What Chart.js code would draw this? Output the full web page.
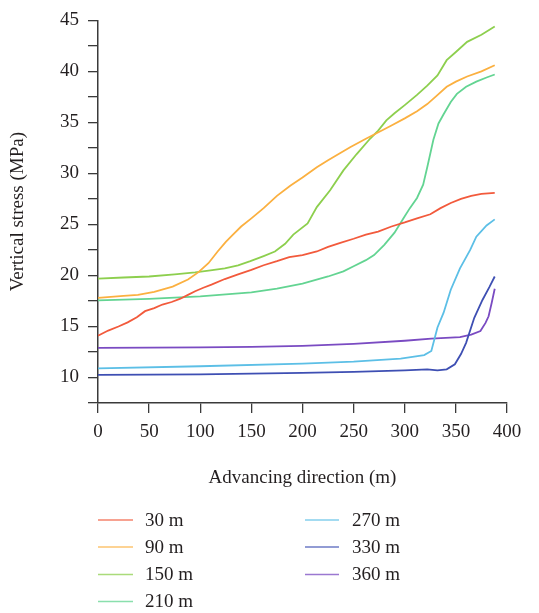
<!DOCTYPE html>
<html>
<head>
<meta charset="utf-8">
<script src="https://cdn.jsdelivr.net/npm/chart.js@4/dist/chart.umd.min.js"></script>
<style>
  html, body { margin: 0; padding: 0; background: #ffffff; }
  #wrap { position: relative; width: 539px; height: 613px; }
</style>
</head>
<body>
<div id="wrap"><canvas id="c" width="539" height="613"></canvas></div>
<script>
// ---- data ----
const seriesNames = ['30 m', '90 m', '150 m', '210 m', '270 m', '330 m', '360 m'];
const seriesColors = ['#f25a3c', '#fbb040', '#8dcf4e', '#63d492', '#5cbfe6', '#3e4fb3', '#7a4bc2'];

const x30 = [0, 10, 20, 29, 38, 46, 55, 63, 72, 80, 88, 95, 103, 111, 124, 137, 150, 162, 175, 187, 200, 214, 225, 237, 250, 262, 274, 287, 300, 312, 325, 335, 345, 355, 365, 375, 388];
const y30 = [14.1, 14.6, 15.0, 15.4, 15.9, 16.5, 16.8, 17.15, 17.4, 17.7, 18.1, 18.45, 18.8, 19.1, 19.65, 20.1, 20.55, 21.0, 21.4, 21.8, 22.0, 22.35, 22.8, 23.2, 23.6, 24.0, 24.3, 24.8, 25.2, 25.6, 26.0, 26.6, 27.1, 27.5, 27.8, 28.0, 28.1];

const x90 = [0, 25, 39, 55, 73, 88, 98, 108, 117, 125, 132, 140, 150, 162, 175, 188, 200, 214, 225, 237, 247, 262, 271, 287, 300, 312, 322, 330, 341, 350, 361, 375, 388];
const y90 = [17.8, 18.0, 18.1, 18.4, 18.9, 19.6, 20.3, 21.2, 22.35, 23.3, 24.0, 24.8, 25.6, 26.6, 27.8, 28.8, 29.6, 30.6, 31.3, 32.0, 32.6, 33.4, 33.87, 34.7, 35.4, 36.1, 36.8, 37.5, 38.5, 39.0, 39.5, 40.0, 40.6];

const x150 = [0, 25, 50, 75, 95, 110, 124, 137, 149, 162, 173, 183, 191, 205, 214, 227, 240, 253, 266, 274, 282, 290, 300, 312, 322, 332, 341, 350, 361, 375, 388];
const y150 = [19.7, 19.8, 19.9, 20.1, 20.3, 20.5, 20.7, 21.0, 21.4, 21.9, 22.35, 23.1, 24.0, 25.1, 26.7, 28.35, 30.3, 31.9, 33.4, 34.2, 35.2, 35.9, 36.7, 37.7, 38.6, 39.6, 41.1, 41.9, 42.9, 43.6, 44.4];

const x210 = [0, 50, 100, 150, 175, 200, 225, 240, 250, 262, 270, 280, 290, 300, 305, 312, 318, 322, 328, 333, 338, 345, 351, 360, 370, 380, 388];
const y210 = [17.55, 17.7, 17.95, 18.35, 18.7, 19.2, 19.9, 20.4, 20.9, 21.5, 22.0, 23.0, 24.2, 25.8, 26.6, 27.6, 28.9, 30.6, 33.3, 34.9, 35.8, 37.0, 37.8, 38.5, 39.0, 39.4, 39.7];

const x270 = [0, 100, 200, 250, 296, 319, 326, 329, 332, 338, 345, 354, 364, 370, 380, 388];
const y270 = [10.9, 11.1, 11.35, 11.55, 11.85, 12.2, 12.6, 13.75, 14.9, 16.35, 18.6, 20.7, 22.5, 23.8, 24.9, 25.5];

const x330 = [0, 100, 200, 250, 300, 322, 332, 341, 349, 355, 360, 368, 376, 383, 388];
const y330 = [10.25, 10.3, 10.45, 10.55, 10.7, 10.8, 10.7, 10.8, 11.3, 12.3, 13.4, 15.85, 17.6, 18.9, 19.9];

const x360 = [0, 50, 100, 150, 200, 250, 300, 326, 354, 365, 374, 379, 382, 385, 388];
const y360 = [12.9, 12.92, 12.95, 13.0, 13.1, 13.3, 13.6, 13.8, 13.95, 14.2, 14.55, 15.35, 16.0, 17.3, 18.7];

const xTickValues = [0, 50, 100, 150, 200, 250, 300, 350, 400];
const yTickLabels = [10, 15, 20, 25, 30, 35, 40, 45];

const xsAll = [x30, x90, x150, x210, x270, x330, x360];
const ysAll = [y30, y90, y150, y210, y270, y330, y360];

const FONT = "'Liberation Serif', 'Times New Roman', serif";
const FS = 19;
const TEXT = '#231f20';
const AXIS = '#3a3a3a';

const datasets = seriesNames.map((name, i) => ({
  label: name,
  data: xsAll[i].map((x, j) => ({ x: x, y: ysAll[i][j] })),
  borderColor: seriesColors[i],
  backgroundColor: seriesColors[i],
  borderWidth: 1.8,
  pointRadius: 0,
  tension: 0,
  fill: false
}));

// custom two-column legend drawn on the canvas
const legendPlugin = {
  id: 'colLegend',
  afterDraw(chart) {
    const ctx = chart.ctx;
    const rows = [520, 547, 574.5, 601.5];
    const cols = [{ x0: 98, x1: 133, tx: 145 }, { x0: 305, x1: 339, tx: 352 }];
    ctx.save();
    ctx.font = FS + 'px ' + FONT;
    ctx.textBaseline = 'middle';
    ctx.textAlign = 'left';
    chart.data.datasets.forEach((ds, i) => {
      const col = i < 4 ? cols[0] : cols[1];
      const row = i < 4 ? rows[i] : rows[i - 4];
      ctx.globalAlpha = 0.75;
      ctx.strokeStyle = ds.borderColor;
      ctx.lineWidth = 1.6;
      ctx.beginPath();
      ctx.moveTo(col.x0, row);
      ctx.lineTo(col.x1, row);
      ctx.stroke();
      ctx.globalAlpha = 1;
      ctx.fillStyle = TEXT;
      ctx.fillText(ds.label, col.tx, row + 1);
    });
    ctx.restore();
  }
};

new Chart(document.getElementById('c'), {
  type: 'line',
  data: { datasets: datasets },
  options: {
    responsive: false,
    animation: false,
    layout: { padding: { top: 19, right: 32, bottom: 124, left: 7 } },
    plugins: { legend: { display: false }, tooltip: { enabled: false } },
    scales: {
      x: {
        type: 'linear',
        min: 0, max: 400,
        afterFit(scale) { scale.height = 86; },
        afterBuildTicks(scale) { scale.ticks = xTickValues.map(v => ({ value: v })); },
        border: { display: true, color: AXIS, width: 1.5 },
        grid: { display: true, drawOnChartArea: false, drawTicks: true, tickLength: 10, color: AXIS, lineWidth: 1.3 },
        ticks: { padding: 8, color: TEXT, font: { family: FONT, size: FS }, maxRotation: 0, autoSkip: false },
        title: { display: true, text: 'Advancing direction (m)', color: TEXT, font: { family: FONT, size: FS }, padding: { top: 23, bottom: 0 } }
      },
      y: {
        type: 'linear',
        min: 7.5, max: 45,
        afterFit(scale) { scale.width = 91; },
        ticks: {
          stepSize: 2.5, padding: 9, color: TEXT, font: { family: FONT, size: FS }, autoSkip: false,
          callback: (v) => (yTickLabels.includes(v) ? String(v) : '')
        },
        border: { display: true, color: AXIS, width: 1.5 },
        grid: { display: true, drawOnChartArea: false, drawTicks: true, tickLength: 10, color: AXIS, lineWidth: 1.3 },
        title: { display: true, text: 'Vertical stress (MPa)', color: TEXT, font: { family: FONT, size: FS }, padding: { top: 0, bottom: 0 } }
      }
    }
  },
  plugins: [legendPlugin]
});
</script>
</body>
</html>
